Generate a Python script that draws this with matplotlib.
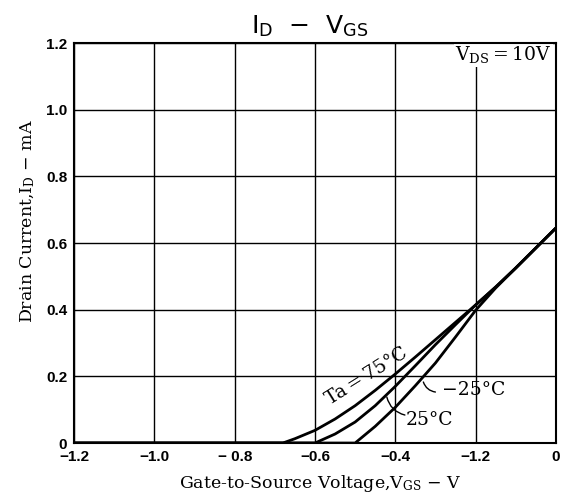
"""I_D - V_GS characteristic chart."""

import matplotlib
matplotlib.use("Agg")
import matplotlib.pyplot as plt

plt.rcParams["font.family"] = "DejaVu Sans"
plt.rcParams["mathtext.fontset"] = "custom"
plt.rcParams["mathtext.rm"] = "DejaVu Serif"
plt.rcParams["mathtext.it"] = "DejaVu Serif"
plt.rcParams["mathtext.sf"] = "DejaVu Sans"

# Values (V_GS in V, I_D in mA)
vgs_75 = [-1.2, -0.68, -0.65, -0.6, -0.55, -0.5, -0.45, -0.4, -0.35,
          -0.3, -0.25, -0.2, -0.15, -0.1, -0.05, 0.0]
id_75 = [0.0, 0.0, 0.013, 0.038, 0.072, 0.112, 0.158, 0.207, 0.258,
         0.31, 0.362, 0.414, 0.468, 0.525, 0.585, 0.645]

vgs_25 = [-1.2, -0.6, -0.55, -0.5, -0.45, -0.4, -0.35, -0.3, -0.25,
          -0.2, -0.15, -0.1, -0.05, 0.0]
id_25 = [0.0, 0.0, 0.027, 0.063, 0.112, 0.17, 0.232, 0.295, 0.355,
         0.414, 0.468, 0.525, 0.585, 0.645]

vgs_m25 = [-1.2, -0.5, -0.45, -0.4, -0.35, -0.3, -0.25, -0.2, -0.15,
           -0.1, -0.05, 0.0]
id_m25 = [0.0, 0.0, 0.05, 0.107, 0.172, 0.24, 0.318, 0.398, 0.465,
          0.525, 0.585, 0.645]

x_ticks = [-1.2, -1.0, -0.8, -0.6, -0.4, -0.2, 0.0]
x_tick_labels = ["\u22121.2", "\u22121.0", "\u2212 0.8", "\u22120.6", "\u22120.4", "\u22121.2", "0"]
y_ticks = [0, 0.2, 0.4, 0.6, 0.8, 1.0, 1.2]
y_tick_labels = ["0", "0.2", "0.4", "0.6", "0.8", "1.0", "1.2"]

SERIF = "DejaVu Serif"

fig = plt.figure(figsize=(5.79, 4.95), dpi=100)
ax = fig.add_axes([0.128, 0.105, 0.832, 0.808])

for xs, ys in [(vgs_75, id_75), (vgs_25, id_25), (vgs_m25, id_m25)]:
    ax.plot(xs, ys, color="black", linewidth=2.0, solid_capstyle="round",
            solid_joinstyle="round", zorder=3)

ax.set_xlim(-1.2, 0)
ax.set_ylim(0, 1.2)
ax.set_xticks(x_ticks)
ax.set_xticklabels(x_tick_labels)
ax.set_yticks(y_ticks)
ax.set_yticklabels(y_tick_labels)
ax.tick_params(length=0, labelsize=11, pad=5)
for lab in ax.get_xticklabels() + ax.get_yticklabels():
    lab.set_fontfamily("Liberation Sans")
    lab.set_fontweight("bold")
ax.grid(True, color="black", linewidth=1.0)
for sp in ax.spines.values():
    sp.set_linewidth(1.5)

ax.set_xlabel(r"Gate-to-Source Voltage,V$_{\mathrm{GS}}$ $-$ V",
              family=SERIF, fontsize=12.5, va="center")
ax.xaxis.set_label_coords(0.51, -0.1)
ax.set_ylabel(r"Drain Current,I$_{\mathrm{D}}$ $-$ mA",
              family=SERIF, fontsize=12.5, va="center")
ax.yaxis.set_label_coords(-0.096, 0.555)

fig.text(0.535, 0.933, r"I$_{\mathsf{D}}$  $-$  V$_{\mathsf{GS}}$",
         fontsize=18, ha="center", va="baseline")

# white box hides the grid line behind the label, spines stay on top
ax.text(-0.01, 1.165, r"V$_{\mathrm{DS}}$$=$10V", family=SERIF,
        fontsize=13.5, ha="right", va="center", zorder=2,
        bbox=dict(facecolor="white", edgecolor="none", pad=1))

ax.text(-0.47, 0.2, "Ta\u2009=\u200975\u00b0C", family=SERIF,
        fontsize=13.5, rotation=32, ha="center", va="center",
        rotation_mode="anchor")

ax.text(-0.205, 0.16, "\u221225\u00b0C", family=SERIF, fontsize=13.5,
        ha="center", va="center")
ax.annotate("", xy=(-0.33, 0.183), xytext=(-0.30, 0.153),
            arrowprops=dict(arrowstyle="-", color="black", lw=1.0,
                            connectionstyle="arc3,rad=-0.3",
                            shrinkA=0, shrinkB=0))

ax.text(-0.314, 0.069, "25\u00b0C", family=SERIF, fontsize=13.5,
        ha="center", va="center")
ax.annotate("", xy=(-0.421, 0.138), xytext=(-0.376, 0.084),
            arrowprops=dict(arrowstyle="-", color="black", lw=1.0,
                            connectionstyle="arc3,rad=-0.3",
                            shrinkA=0, shrinkB=0))

fig.savefig("out.png", dpi=100)
